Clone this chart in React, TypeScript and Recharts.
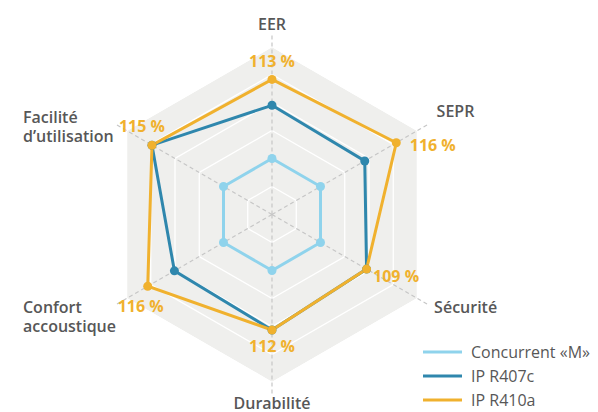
import React from "react";
import { Legend, PolarAngleAxis, PolarGrid, PolarRadiusAxis, Radar, RadarChart } from "recharts";

// criteria, clockwise from the top
const categories = ["EER", "SEPR", "Sécurité", "Durabilité", "Confort accoustique", "Facilité d’utilisation"];
const concurrentM = [40, 40, 40, 40, 40, 40];
const ipR407c = [78, 76.5, 78, 82.5, 80.5, 99];
const ipR410a = [96.5, 102.5, 78, 82.5, 102.5, 99];
const r410aLabels = ["113 %", "116 %", "109 %", "112 %", "116 %", "115 %"];

const FONT = "'Open Sans', 'Noto Sans', sans-serif";
const TEXT = "#575757";
const LIGHT_BLUE = "#8fd3ec";
const DARK_BLUE = "#2f87ad";
const ORANGE = "#f0b12e";

const data = categories.map((name, i) => ({
  name,
  m: concurrentM[i],
  c407: ipR407c[i],
  a410: ipR410a[i],
}));

// label placement around the axis tick point
const tickPlace = [
  { dx: 0, dy: -3, anchor: "middle" },
  { dx: 7, dy: -6.5, anchor: "start" },
  { dx: 4.5, dy: 7.5, anchor: "start" },
  { dx: 0, dy: 12, anchor: "middle" },
  { dx: -91.4, dy: 7.5, anchor: "start" },
  { dx: -91.4, dy: -1, anchor: "start" },
];

// value label placement around the R410a dot
const valuePlace = [
  { dx: 0, dy: -12.5, anchor: "middle" },
  { dx: 13.5, dy: 8, anchor: "start" },
  { dx: 6.5, dy: 12.5, anchor: "start" },
  { dx: 0, dy: 21.5, anchor: "middle" },
  { dx: -7, dy: 25.5, anchor: "middle" },
  { dx: -10, dy: -13, anchor: "middle" },
];

function AxisTick(props: any) {
  const { x, y, payload } = props;
  const i = categories.indexOf(payload.value);
  const p = tickPlace[i] ?? { dx: 0, dy: 0, anchor: "middle" };
  const lines = String(payload.value).split(" ");
  return (
    <text
      x={x + p.dx}
      y={y + p.dy}
      textAnchor={p.anchor}
      fill={TEXT}
      fontFamily={FONT}
      fontWeight={600}
      fontSize={16}
    >
      {lines.map((l, k) => (
        <tspan key={k} x={x + p.dx} dy={k === 0 ? 0 : 19}>
          {l}
        </tspan>
      ))}
    </text>
  );
}

const makeDot = (color: string) => (props: any) => (
  <circle key={`dot-${color}-${props.index}`} cx={props.cx} cy={props.cy} r={4.5} fill={color} />
);

function R410aDot(props: any) {
  const { cx, cy, index } = props;
  const p = valuePlace[index];
  return (
    <g key={`dot-${index}`}>
      <circle cx={cx} cy={cy} r={4.5} fill={ORANGE} />
      <text
        x={cx + p.dx}
        y={cy + p.dy}
        textAnchor={p.anchor}
        fill={ORANGE}
        fontFamily={FONT}
        fontWeight={700}
        fontSize={16}
      >
        {r410aLabels[index]}
      </text>
    </g>
  );
}

function LegendBox(props: any) {
  const items = (props.payload || []).filter((e: any) => e.type !== "none");
  return (
    <div style={{ fontFamily: FONT, fontSize: 16, color: TEXT }}>
      {items.map((e: any) => (
        <div key={e.value} style={{ display: "flex", alignItems: "center", height: 24 }}>
          <svg width={39} height={6} style={{ marginRight: 9 }}>
            <line x1={0} y1={3} x2={39} y2={3} stroke={e.color} strokeWidth={3} />
          </svg>
          <span>{e.value}</span>
        </div>
      ))}
    </div>
  );
}

export default function App() {
  return (
    <div style={{ position: "absolute", left: 0, top: 0, width: 598, height: 412, background: "#fff" }}>
      <RadarChart width={598} height={412} data={data} cx={272} cy={214.5} outerRadius={168}>
        <PolarGrid
          gridType="polygon"
          radialLines={false}
          stroke="#ffffff"
          strokeWidth={1.3}
          fill="#efefed"
          fillOpacity={1}
        />
        <PolarGrid gridType="polygon" polarRadius={[]} stroke="#c6c6c6" strokeWidth={1.2} strokeDasharray="4 3" />
        <PolarRadiusAxis angle={90} domain={[0, 120]} tickCount={7} tick={false} axisLine={false} />
        <PolarAngleAxis
          dataKey="name"
          axisLine={false}
          tickSize={14}
          tickLine={{ stroke: "#c6c6c6", strokeWidth: 1.2, strokeDasharray: "4 3" }}
          tick={<AxisTick />}
        />
        <Radar
          name="Concurrent «M»"
          dataKey="m"
          stroke={LIGHT_BLUE}
          strokeWidth={3}
          fill="none"
          fillOpacity={0}
          dot={makeDot(LIGHT_BLUE)}
          isAnimationActive={false}
        />
        <Radar
          name="IP R407c"
          dataKey="c407"
          stroke={DARK_BLUE}
          strokeWidth={3}
          fill="none"
          fillOpacity={0}
          dot={makeDot(DARK_BLUE)}
          isAnimationActive={false}
        />
        <Radar
          name="IP R410a"
          dataKey="a410"
          stroke={ORANGE}
          strokeWidth={3}
          fill="none"
          fillOpacity={0}
          dot={(p: any) => <R410aDot {...p} />}
          isAnimationActive={false}
        />
        <Legend
          layout="vertical"
          verticalAlign="top"
          align="left"
          wrapperStyle={{ left: 423, top: 340, width: 175 }}
          content={<LegendBox />}
        />
      </RadarChart>
    </div>
  );
}
